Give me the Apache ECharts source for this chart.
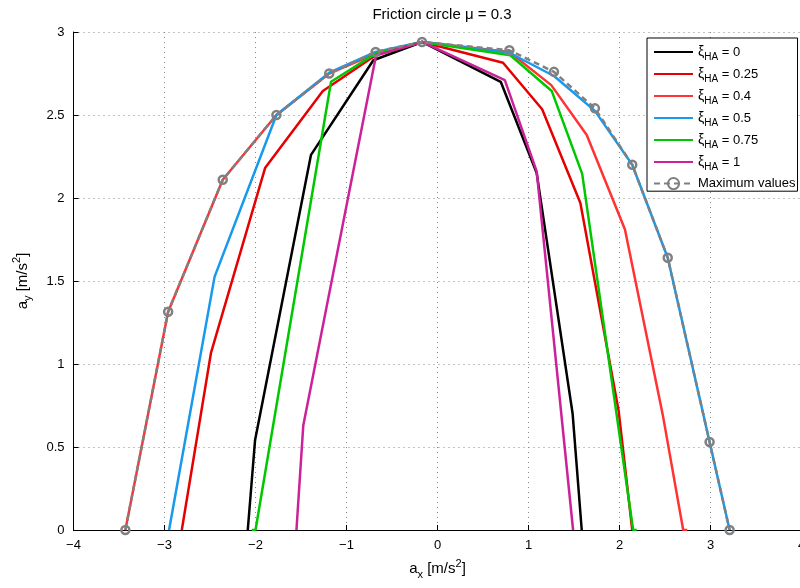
<!DOCTYPE html>
<html>
<head>
<meta charset="utf-8">
<script src="https://cdn.jsdelivr.net/npm/echarts@6/dist/echarts.min.js"></script>
<style>
  html, body { margin: 0; padding: 0; background: #fff; }
  #chart { width: 800px; height: 588px; }
</style>
</head>
<body>
<div id="chart"></div>
<script>
// 各曲线的顶点 [ax, ay]
var xi0   = [[-2.085,0],[-2.005,0.54],[-1.39,2.26],[-0.705,2.83],[-0.17,2.94],[0.695,2.70],[1.09,2.15],[1.485,0.70],[1.585,0]];
var xi025 = [[-2.81,0],[-2.49,1.065],[-1.895,2.18],[-1.26,2.645],[-0.68,2.86],[-0.17,2.94],[0.72,2.815],[1.15,2.535],[1.57,1.97],[1.99,0.72],[2.14,0]];
var xi04  = [[-3.43,0],[-2.96,1.315],[-2.36,2.11],[-1.77,2.50],[-1.19,2.75],[-0.68,2.87],[-0.17,2.94],[0.79,2.88],[1.25,2.68],[1.64,2.38],[2.06,1.81],[2.48,0.68],[2.70,0],[2.745,0]];
var xi05  = [[-2.95,0],[-2.93,0],[-2.45,1.525],[-1.77,2.50],[-1.19,2.755],[-0.68,2.88],[-0.17,2.94],[0.79,2.875],[1.28,2.735],[1.73,2.525],[2.14,2.20],[2.53,1.64],[2.99,0.53],[3.21,0]];
var xi075 = [[-2.04,0],[-2.0,0],[-1.17,2.70],[-0.68,2.87],[-0.17,2.94],[0.80,2.86],[1.255,2.645],[1.59,2.145],[2.15,0],[2.19,0]];
var xi1   = [[-1.55,0],[-1.475,0.63],[-0.675,2.86],[-0.17,2.94],[0.74,2.71],[1.09,2.16],[1.49,0]];
var xiMax = [[-3.43,0],[-2.96,1.315],[-2.36,2.11],[-1.77,2.50],[-1.19,2.75],[-0.68,2.88],[-0.17,2.94],[0.79,2.89],[1.28,2.76],[1.73,2.54],[2.14,2.20],[2.53,1.64],[2.99,0.53],[3.21,0]];

var xiLabels = ['0','0.25','0.4','0.5','0.75','1'];
var xiCurves = [xi0, xi025, xi04, xi05, xi075, xi1];
var xiColors = ['#000000','#e60000','#ff3333','#1799ee','#00c800','#cc2299'];
var maxName = 'Maximum values';

var chart = echarts.init(document.getElementById('chart'));
var font = 'Liberation Sans';

var series = [];
for (var i = 0; i < xiCurves.length; i++) {
  series.push({
    name: 'xi' + i,
    type: 'line',
    data: xiCurves[i],
    symbol: 'none',
    lineStyle: { color: xiColors[i], width: 2.5 },
    // 图例里不画圆点，只画线
    itemStyle: { color: 'rgba(0,0,0,0)' },
    animation: false
  });
}
series.push({
  name: maxName,
  type: 'line',
  data: xiMax,
  symbol: 'circle',
  symbolSize: 8,
  lineStyle: { color: '#808080', width: 2.5, type: [6, 4] },
  itemStyle: { color: 'rgba(0,0,0,0)', borderColor: '#808080', borderWidth: 2.5 },
  animation: false
});

var rich = {
  g: { fontSize: 13, lineHeight: 20, fontFamily: font, color: '#000' },
  x: { fontSize: 14, lineHeight: 20, fontFamily: font, color: '#000' },
  s: { fontSize: 10, lineHeight: 9, fontFamily: font, color: '#000', verticalAlign: 'bottom' }
};

var nameRich = {
  b: { fontSize: 15, lineHeight: 22, fontFamily: font, color: '#000' },
  sub: { fontSize: 11, lineHeight: 10, fontFamily: font, color: '#000', verticalAlign: 'bottom' },
  sup: { fontSize: 11, lineHeight: 12, fontFamily: font, color: '#000', verticalAlign: 'top' }
};

chart.setOption({
  backgroundColor: '#fff',
  title: {
    text: 'Friction circle μ = 0.3',
    left: 437,
    top: 2,
    textAlign: 'center',
    textStyle: { fontSize: 15, fontWeight: 'normal', color: '#000', fontFamily: font }
  },
  grid: { left: 73.5, top: 32, width: 728, height: 498, outerBoundsMode: 'none' },
  legend: {
    orient: 'vertical',
    left: 647,
    top: 38,
    padding: [7, 2, 1, 6],
    itemWidth: 39,
    itemHeight: 14,
    itemGap: 5,
    borderColor: '#000',
    borderWidth: 1,
    borderRadius: 0,
    backgroundColor: '#fff',
    data: series.map(function (s) { return s.name; }),
    formatter: function (name) {
      if (name === maxName) return '{g|' + maxName + '}';
      var k = parseInt(name.slice(2), 10);
      return '{x|ξ}{s|HA}{g| = ' + xiLabels[k] + '}';
    },
    textStyle: { rich: rich }
  },
  xAxis: {
    type: 'value',
    min: -4, max: 4, interval: 1,
    name: '{b|a}{sub|x}{b| [m/s}{sup|2}{b|]}',
    nameLocation: 'middle',
    nameGap: 28,
    nameTextStyle: { rich: nameRich },
    axisLine: { onZero: false, lineStyle: { color: '#000', width: 1 } },
    axisTick: { inside: true, length: 5, lineStyle: { color: '#000' } },
    axisLabel: {
      color: '#000', fontSize: 13, fontFamily: font, margin: 9,
      formatter: function (v) { return String(v).replace('-', '\u2212'); }
    },
    splitLine: { show: true, lineStyle: { color: '#888', type: [1, 4], width: 1 } }
  },
  yAxis: {
    type: 'value',
    min: 0, max: 3, interval: 0.5,
    name: '{b|a}{sub|y}{b| [m/s}{sup|2}{b|]}',
    nameLocation: 'middle',
    nameGap: 40,
    nameTextStyle: { rich: nameRich },
    axisLine: { show: true, onZero: false, lineStyle: { color: '#000', width: 1 } },
    axisTick: { show: true, inside: true, length: 5, lineStyle: { color: '#000' } },
    axisLabel: { color: '#000', fontSize: 13, fontFamily: font, margin: 9 },
    splitLine: { show: true, lineStyle: { color: '#888', type: [1, 4], width: 1 } }
  },
  series: series
});
</script>
</body>
</html>
